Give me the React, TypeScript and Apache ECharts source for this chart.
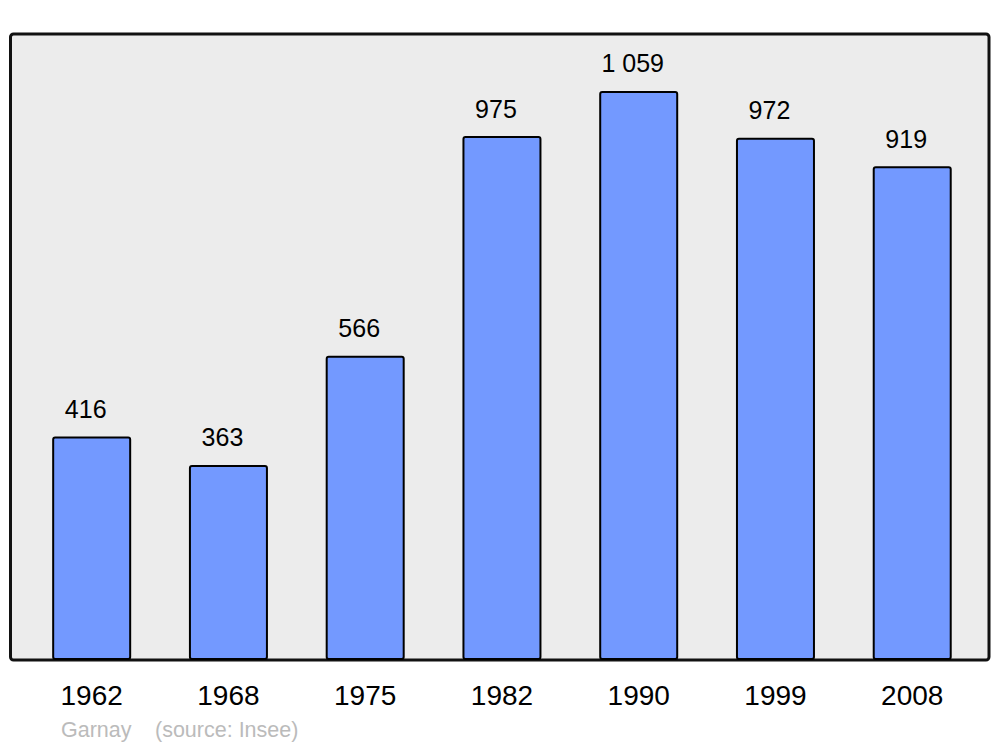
import React, { useEffect, useRef } from "react";
import * as echarts from "echarts";

const years = ["1962", "1968", "1975", "1982", "1990", "1999", "2008"];
const population = [416, 363, 566, 975, 1059, 972, 919];
const commune = "Garnay";
const source = "(source: Insee)";

const fmt = (v: number) => {
  const s = String(v);
  return s.replace(/\B(?=(\d{3})+(?!\d))/g, " ");
};

export default function App() {
  const ref = useRef<HTMLDivElement>(null);
  useEffect(() => {
    if (!ref.current) return;
    const chart = echarts.init(ref.current, null, { renderer: "svg" });
    chart.setOption({
      animation: false,
      backgroundColor: "#ffffff",
      textStyle: { fontFamily: "Liberation Sans" },
      grid: { left: 23.3, right: 19.4, top: 34, bottom: 87, containLabel: false },
      xAxis: {
        type: "category",
        data: years,
        axisLine: { show: false },
        axisTick: { show: false },
        axisLabel: {
          color: "#000",
          fontSize: 28,
          margin: 21,
          fontFamily: "Liberation Sans",
        },
      },
      yAxis: {
        type: "value",
        min: 0,
        max: 1165,
        show: false,
        splitLine: { show: false },
      },
      graphic: [
        {
          type: "rect",
          z: -10,
          shape: { x: 10.5, y: 34, width: 978.5, height: 626, r: 3 },
          style: { fill: "#ececec", stroke: "#111", lineWidth: 3 },
        },
        {
          type: "text",
          x: 61,
          y: 730,
          style: {
            text: commune,
            fill: "#bbbbbb",
            font: "21.5px 'Liberation Sans'",
            textVerticalAlign: "middle",
          },
        },
        {
          type: "text",
          x: 155,
          y: 730,
          style: {
            text: source,
            fill: "#bbbbbb",
            font: "21.5px 'Liberation Sans'",
            textVerticalAlign: "middle",
          },
        },
      ],
      series: [
        {
          type: "bar",
          data: population,
          barWidth: 79,
          itemStyle: {
            color: "#7399ff",
            borderColor: "#000",
            borderWidth: 2,
            borderRadius: 2,
          },
          label: {
            show: true,
            position: "top",
            distance: 15,
            offset: [-6, 0],
            color: "#000",
            fontSize: 25,
            fontFamily: "Liberation Sans",
            formatter: (p: any) => fmt(p.value),
          },
        },
      ],
    });
    return () => chart.dispose();
  }, []);
  return <div ref={ref} style={{ width: 1000, height: 747, position: "absolute", left: 0, top: 0 }} />;
}
